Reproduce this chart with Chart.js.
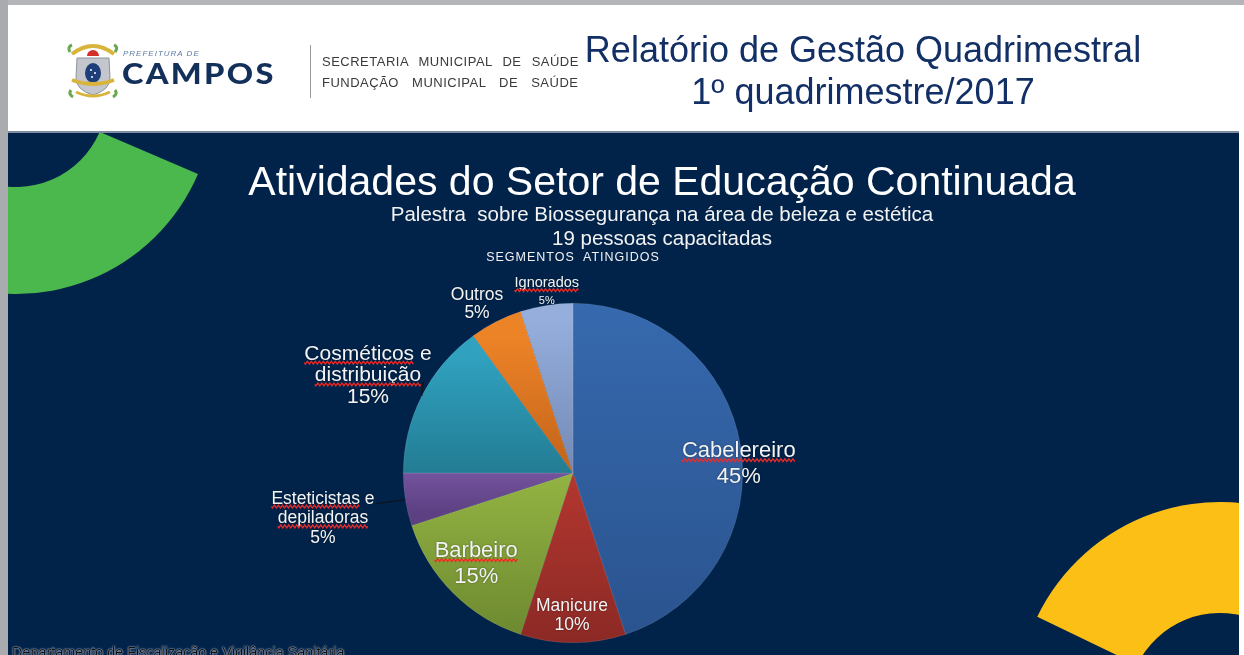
<!DOCTYPE html>
<html lang="pt-BR">
<head>
<meta charset="utf-8">
<title>Atividades do Setor de Educação Continuada</title>
<script src="https://cdn.jsdelivr.net/npm/chart.js@4.4.1/dist/chart.umd.min.js"></script>
<style>
html, body { margin: 0; padding: 0; }
body {
    width: 1244px; height: 655px; overflow: hidden; position: relative;
    background: #ffffff; font-family: "Liberation Sans", Arial, sans-serif;
}
#frameLeft { position: absolute; left: 0; top: 0; width: 8px; height: 655px; background: #a9abae; }
#frameTop { position: absolute; left: 0; top: 0; width: 1244px; height: 5px; background: #b3b5b8; }
#panel {
    position: absolute; left: 8px; top: 131px; width: 1231px; height: 524px;
    background: #01234a; border-top: 2px solid #7f8ca3; box-sizing: border-box;
}
#chart { position: absolute; left: 0; top: 0; z-index: 2; }
.txt { position: absolute; white-space: nowrap; line-height: 1; z-index: 3; }
.mid { transform: translateX(-50%); }
.sec { font-size: 13px; letter-spacing: 0.5px; color: #3a3a3a; }
#sep { position: absolute; left: 310px; top: 45px; width: 1px; height: 53px; background: #9a9a9a; }
#logo { position: absolute; left: 66px; top: 40px; }
</style>
</head>
<body>

<div id="frameTop"></div>
<div id="frameLeft"></div>
<div id="panel"></div>

<!-- cabeçalho -->
<svg id="logo" width="54" height="60" viewBox="0 0 54 60">
    <path d="M6 14 Q27 -2 48 14" stroke="#d9b43a" stroke-width="4" fill="none"/>
    <path d="M4 12 q-3 -5 2 -7 M49 12 q4 -5 -1 -7" stroke="#6aa84f" stroke-width="3" fill="none"/>
    <path d="M21 16 a6 6 0 0 1 12 0 z" fill="#d3302a"/>
    <path d="M11 18 L43 18 L44 38 Q44 50 27 55 Q10 50 10 38 Z" fill="#c3c7cd" stroke="#8d939b" stroke-width="1"/>
    <ellipse cx="27" cy="33" rx="8" ry="10" fill="#1f3f7a"/>
    <circle cx="25" cy="30" r="1" fill="#fff"/><circle cx="29" cy="33" r="1" fill="#fff"/>
    <circle cx="26" cy="37" r="1" fill="#fff"/>
    <path d="M6 40 Q27 48 48 40" stroke="#d9b43a" stroke-width="4" fill="none"/>
    <path d="M10 52 Q27 60 44 52" stroke="#d9b43a" stroke-width="3" fill="none"/>
    <path d="M5 50 q-3 4 2 7 M49 50 q3 4 -2 7" stroke="#6aa84f" stroke-width="3" fill="none"/>
</svg>
<div class="txt" style="left:123px; top:50px; font-size:8px; font-style:italic; letter-spacing:1px; color:#5c7aa6;">PREFEITURA DE</div>
<div class="txt" style="left:122px; top:59px; font-family:Lato, sans-serif; font-weight:900; font-size:28px; letter-spacing:2px; color:#12305a; transform-origin:0 0; transform:scaleX(1.16);">CAMPOS</div>
<div id="sep"></div>
<div class="txt sec" style="left:322px; top:55px; word-spacing:6px;">SECRETARIA MUNICIPAL DE SAÚDE</div>
<div class="txt sec" style="left:322px; top:76px; word-spacing:9px;">FUNDAÇÃO MUNICIPAL DE SAÚDE</div>
<div class="txt mid" style="left:863px; top:32px; font-size:36px; color:#122f66;">Relatório de Gestão Quadrimestral</div>
<div class="txt mid" style="left:863px; top:74px; font-size:36px; color:#122f66;">1º quadrimestre/2017</div>

<!-- títulos do slide -->
<div class="txt mid" style="left:662px; top:161px; font-size:41px; color:#ffffff;">Atividades do Setor de Educação Continuada</div>
<div class="txt mid" style="left:662px; top:204px; font-size:20.5px; color:#f2f2f2; white-space:pre;">Palestra  sobre Biossegurança na área de beleza e estética</div>
<div class="txt mid" style="left:662px; top:228px; font-size:20.5px; color:#f2f2f2;">19 pessoas capacitadas</div>
<div class="txt mid" style="left:573px; top:251px; font-size:12.5px; letter-spacing:1px; color:#f2f2f2; white-space:pre;">SEGMENTOS  ATINGIDOS</div>
<div class="txt" style="left:12px; top:645px; font-size:14.4px; color:#101010; text-shadow:0 0 2px #c8d4e8, 0 0 1px #c8d4e8;">Departamento de Fiscalização e Vigilância Sanitária</div>

<canvas id="chart" width="1244" height="655"></canvas>

<script>

/* =====================================
   DADOS
===================================== */

const categories = [
    "Cabelereiro",
    "Manicure",
    "Barbeiro",
    "Esteticistas e depiladoras",
    "Cosméticos e distribuição",
    "Outros",
    "Ignorados"
];

const shares = [45, 10, 15, 5, 15, 5, 5];

// linhas do rótulo como aparecem no slide
const labelLines = [
    ["Cabelereiro"],
    ["Manicure"],
    ["Barbeiro"],
    ["Esteticistas e", "depiladoras"],
    ["Cosméticos e", "distribuição"],
    ["Outros"],
    ["Ignorados"]
];

/* =====================================
   ESTILO
===================================== */

// gradiente vertical de cada fatia: [posição, cor] no quadro da pizza
const sliceStops = [
    [[0, "#3669ae"], [1, "#2a538e"]],
    [[0.5, "#b3372f"], [1, "#8c2925"]],
    [[0.5, "#93b443"], [1, "#6c872f"]],
    [[0.5, "#73539d"], [0.62, "#5c4082"]],
    [[0.15, "#30a2c0"], [0.5, "#237c93"]],
    [[0.1, "#ed8327"], [0.45, "#c7671c"]],
    [[0.05, "#95aedb"], [0.5, "#7389b5"]]
];

// posição do rótulo: fator do raio, desvio de ângulo, fonte, fonte do %, espaço entre linhas
const labelStyle = [
    { k: 0.979, da: 5.2, size: 22, pct: 22, gap: 25.5 },
    { k: 0.832, da: 0.4, size: 17.5, pct: 17.5, gap: 19.5 },
    { k: 0.776, da: 2.3, size: 22, pct: 22, gap: 26 },
    { k: 1.496, da: -1.0, size: 17.5, pct: 17.5, gap: 19.8, leader: 0 },
    { k: 1.342, da: -1.2, size: 21, pct: 21, gap: 21.7, leader: 1 },
    { k: 1.152, da: -2.4, size: 17.5, pct: 17.5, gap: 18.7 },
    { k: 1.083, da: 0.8, size: 14.5, pct: 11, gap: 18.3 }
];

// palavras sublinhadas pelo corretor no slide original
const flagged = new Set([
    "Cabelereiro", "Barbeiro", "Esteticistas", "depiladoras",
    "Cosméticos", "distribuição", "Ignorados"
]);

const FONT = '"Liberation Sans", Arial, sans-serif';

/* =====================================
   PLUGINS
===================================== */

function ring(c, cx, cy, ri, ro, a0, a1, color){
    const d = Math.PI / 180;
    c.beginPath();
    c.arc(cx, cy, ro, a0 * d, a1 * d, false);
    c.arc(cx, cy, ri, a1 * d, a0 * d, true);
    c.closePath();
    c.fillStyle = color;
    c.fill();
}

const decorPlugin = {
    id: "decor",
    beforeDraw(chart){
        const c = chart.ctx;
        c.save();
        c.beginPath();
        c.rect(8, 133, 1231, 522);
        c.clip();
        ring(c, 16, 96, 91, 198, 23.2, 200, "#4bb84e");
        ring(c, 1220, 705, 92, 203, 205.8, 380, "#fcbf16");
        c.restore();
    }
};

function wave(c, x0, x1, y){
    c.beginPath();
    c.moveTo(x0, y);
    for(let x = x0; x <= x1; x += 1){
        c.lineTo(x, y + Math.sin((x - x0) / 4 * Math.PI * 2) * 1.4);
    }
    c.strokeStyle = "#f02a24";
    c.lineWidth = 1.3;
    c.stroke();
}

const labelPlugin = {
    id: "sliceLabels",
    afterDatasetsDraw(chart){
        const c = chart.ctx;
        const meta = chart.getDatasetMeta(0);
        const total = shares.reduce((a, b) => a + b, 0);

        meta.data.forEach((arc, i) => {
            const p = arc.getProps(["x", "y", "startAngle", "endAngle", "outerRadius"], true);
            const st = labelStyle[i];
            const mid = (p.startAngle + p.endAngle) / 2;
            const ang = mid + st.da * Math.PI / 180;
            const r = p.outerRadius * st.k;
            const cx = p.x + Math.cos(ang) * r;
            const cy = p.y + Math.sin(ang) * r;

            const lines = labelLines[i].concat([Math.round(shares[i] / total * 100) + "%"]);
            const n = lines.length;

            c.save();
            c.textAlign = "left";
            c.textBaseline = "alphabetic";

            lines.forEach((line, j) => {
                const size = j === n - 1 ? st.pct : st.size;
                c.font = size + "px " + FONT;
                const w = c.measureText(line).width;
                const ly = cy + (j - (n - 1) / 2) * st.gap;
                const base = ly + size * 0.36;
                const left = cx - w / 2;

                c.shadowColor = "rgba(0,0,0,0.45)";
                c.shadowBlur = 2;
                c.fillStyle = "#f4f4f4";
                c.fillText(line, left, base);
                c.shadowColor = "transparent";

                // sublinhado ondulado
                let x = left;
                line.split(" ").forEach((word) => {
                    const ww = c.measureText(word).width;
                    if(flagged.has(word)){
                        wave(c, x, x + ww, base + 3);
                    }
                    x += ww + c.measureText(" ").width;
                });

                if(st.leader === j){
                    const ex = p.x + Math.cos(mid) * p.outerRadius;
                    const ey = p.y + Math.sin(mid) * p.outerRadius;
                    c.beginPath();
                    c.moveTo(left + w + 2, base);
                    c.lineTo(ex, ey);
                    c.strokeStyle = "#111111";
                    c.lineWidth = 1;
                    c.stroke();
                }
            });
            c.restore();
        });
    }
};

/* =====================================
   GRÁFICO
===================================== */

function sliceFill(context){
    const chart = context.chart;
    const area = chart.chartArea;
    const stops = sliceStops[context.dataIndex];
    if(!area){
        return stops[0][1];
    }
    const g = chart.ctx.createLinearGradient(0, area.top, 0, area.bottom);
    stops.forEach((s) => g.addColorStop(s[0], s[1]));
    return g;
}

const ctx = document.getElementById("chart").getContext("2d");

new Chart(ctx, {
    type: "pie",
    data: {
        labels: categories,
        datasets: [{
            data: shares,
            backgroundColor: sliceFill,
            borderColor: "rgba(255,255,255,0.18)",
            borderWidth: 0.6
        }]
    },
    options: {
        responsive: false,
        animation: false,
        devicePixelRatio: 1,
        layout: {
            padding: { left: 403, right: 501, top: 303, bottom: 12 }
        },
        plugins: {
            legend: { display: false },
            tooltip: { enabled: false }
        }
    },
    plugins: [decorPlugin, labelPlugin]
});

</script>
</body>
</html>
